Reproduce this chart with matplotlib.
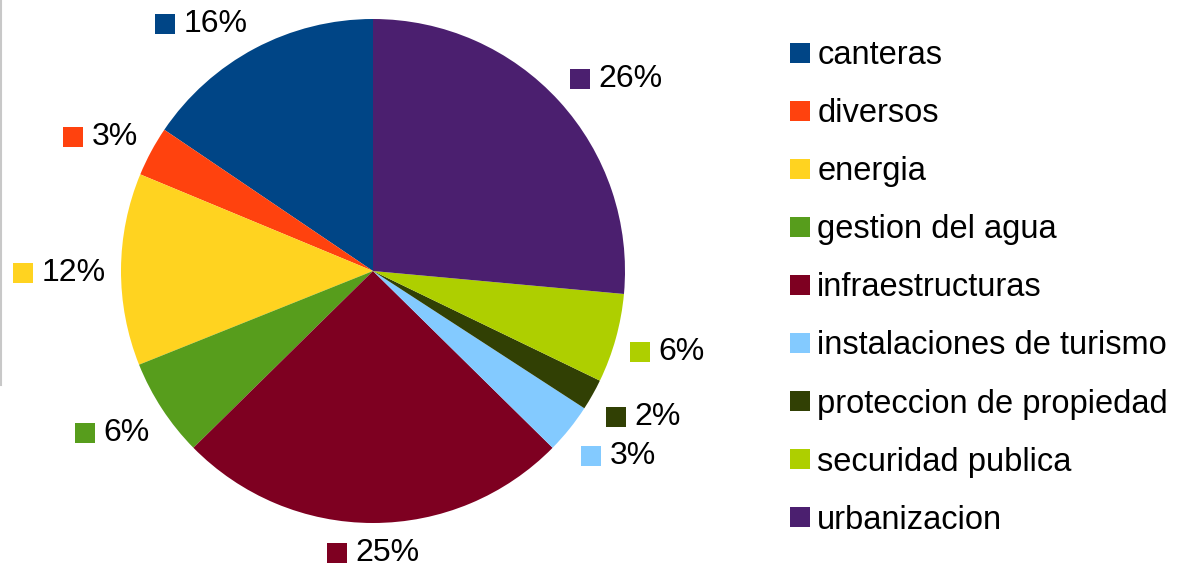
import matplotlib
matplotlib.use("Agg")
import numpy as np
import matplotlib.pyplot as plt
from matplotlib.lines import Line2D
from matplotlib.offsetbox import AnnotationBbox, DrawingArea, HPacker, TextArea
from matplotlib.patches import Rectangle

plt.rcParams["font.family"] = ["Liberation Sans", "DejaVu Sans"]

# shares (percent), legend order = counterclockwise from 12 o'clock
categories = [
    "canteras",
    "diversos",
    "energia",
    "gestion del agua",
    "infraestructuras",
    "instalaciones de turismo",
    "proteccion de propiedad",
    "securidad publica",
    "urbanizacion",
]
shares = [15.5, 3.2, 12.3, 6.3, 25.2, 3.2, 2.0, 5.7, 26.4]
colors = ["#004586", "#ff420e", "#ffd320", "#579d1c", "#7e0021",
          "#83caff", "#314004", "#aecf00", "#4b1f6f"]

W, H = 1190, 566
fig = plt.figure(figsize=(W / 100, H / 100), dpi=100)

# pie centre (373, 271) px, radius 252 px
cx, cy, r = 373, 271, 252
ax = fig.add_axes([(cx - r) / W, 1 - (cy + r) / H, 2 * r / W, 2 * r / H])
wedges, _ = ax.pie(shares, colors=colors, startangle=90, counterclock=True,
                   radius=1.0, wedgeprops=dict(linewidth=0))
ax.set_xlim(-1, 1)
ax.set_ylim(-1, 1)
ax.set_aspect("auto")
ax.axis("off")

total = sum(shares)
label_fs = 23
sq = 14.4  # points (~20 px)
for w, v, c in zip(wedges, shares, colors):
    theta = np.deg2rad((w.theta1 + w.theta2) / 2)
    cs, sn = np.cos(theta), np.sin(theta)
    da = DrawingArea(sq, sq, 0, 0)
    da.add_artist(Rectangle((0, 0), sq, sq, facecolor=c, edgecolor="none"))
    ta = TextArea(f"{round(100 * v / total)}%", textprops=dict(fontsize=label_fs, color="black"))
    box = HPacker(children=[da, ta], align="center", pad=0, sep=6)
    bx = 0.5 - 0.5 * np.clip(cs * 3, -1, 1)
    by = 0.5 - 0.5 * np.clip(sn * 1.5, -1, 1)
    dy = -0.014 if sn > -0.9 else 0.0
    ab = AnnotationBbox(box, (1.06 * cs, 1.06 * sn + dy), xycoords="data",
                        box_alignment=(bx, by), frameon=False, pad=0,
                        annotation_clip=False)
    ax.add_artist(ab)

# legend on the right
handles = [Line2D([], [], linestyle="none", marker="s", markersize=14.4,
                  markerfacecolor=c, markeredgewidth=0) for c in colors]
fig.legend(handles, categories, loc="upper left", bbox_to_anchor=(788.5 / W, 1 - 40 / H),
           frameon=False, fontsize=23.5, handlelength=0.7, handletextpad=0.18,
           labelspacing=0.83, borderpad=0, borderaxespad=0)

# thin grey border stub at the left edge
fig.add_artist(Line2D([1 / W, 1 / W], [1, 1 - 385 / H], color="#c8c8c8", lw=1.5))

fig.savefig("out.png", dpi=100)
